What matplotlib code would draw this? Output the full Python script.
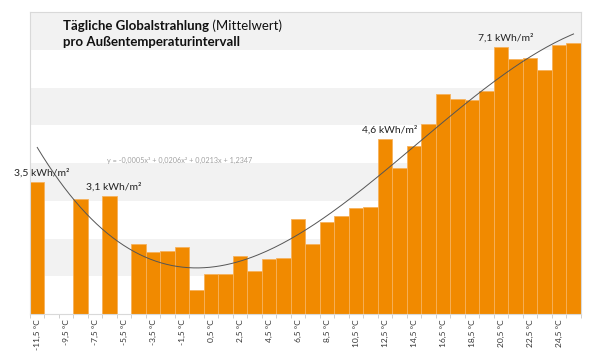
import numpy as np
import matplotlib
matplotlib.use('Agg')
import matplotlib.pyplot as plt

# temperature interval centres and mean daily global radiation (kWh/m²)
temps = np.arange(-11.5, 26.0, 1.0)
radiation = [3.5, 0, 0, 3.04, 0, 3.13, 0, 1.85, 1.65, 1.66,
             1.77, 0.64, 1.05, 1.05, 1.53, 1.14, 1.47, 1.48, 2.53, 1.85,
             2.43, 2.6, 2.82, 2.84, 4.63, 3.86, 4.45, 5.03, 5.83, 5.7,
             5.66, 5.91, 7.08, 6.75, 6.78, 6.46, 7.13, 7.19]
tick_labels = ['%s °C' % ('%.1f' % t).replace('.', ',') for t in temps]
callouts = {-11.5: '3,5 kWh/m²', -6.5: '3,1 kWh/m²',
            12.5: '4,6 kWh/m²', 20.5: '7,1 kWh/m²'}
trend_text = 'y = -0,0005x³ + 0,0206x² + 0,0213x + 1,2347'

plt.rcParams['font.family'] = ['Lato', 'DejaVu Sans']

fig = plt.figure(figsize=(6, 3.56), dpi=100)
ax = fig.add_axes([0.05, 0.118, 0.918, 0.848])

# alternating background bands
for k in range(1, 8, 2):
    ax.axhspan(k, k + 1, color='#f2f2f2', zorder=0, lw=0)

idx = np.arange(len(temps))
ax.bar(idx, radiation, width=1.0, color='#f18a00', edgecolor='#f6b25c',
       linewidth=0.6, zorder=2)

# third order trend through the non-empty intervals
vals = np.array(radiation)
mask = vals > 0
coef = np.polyfit(temps[mask], vals[mask], 3)
tx = np.linspace(temps[0], temps[-1], 200)
ax.plot((tx - temps[0]), np.polyval(coef, tx), color='#555555', lw=0.7, zorder=3)

ax.text(9.8, 4.07, trend_text, fontsize=5.2, color='#a0a0a0', ha='center', va='center')

for t, lab in callouts.items():
    i = int(t - temps[0])
    ax.text(i + 0.3, vals[i] + 0.12, lab, fontsize=7.5, ha='center', va='bottom',
            color='#222222', zorder=4)

t1 = ax.text(1.78, 7.63, 'Tägliche Globalstrahlung', fontsize=9.5, fontweight='bold',
             va='center', ha='left', color='#111111')
ax.annotate(' (Mittelwert)', xy=(1, 0), xycoords=t1, va='bottom', ha='left',
            fontsize=9.5, color='#111111')
ax.text(1.78, 7.2, 'pro Außentemperaturintervall', fontsize=9.5, fontweight='bold',
        va='center', ha='left', color='#111111')

ax.set_xlim(-0.5, len(temps) - 0.5)
ax.set_ylim(0, 8)
ax.set_yticks([])
ax.set_xticks(idx[::2])
ax.set_xticklabels(tick_labels[::2], rotation=90, fontsize=6, color='#333333')
ax.set_xticks(np.arange(-0.5, len(temps), 1.0), minor=True)
ax.tick_params(axis='x', which='major', length=0, pad=4)
ax.tick_params(axis='x', which='minor', length=3, color='#c8c8c8', width=0.6)
for s in ax.spines.values():
    s.set_color('#d9d9d9')
    s.set_linewidth(0.8)

fig.savefig('out.png', dpi=100)
